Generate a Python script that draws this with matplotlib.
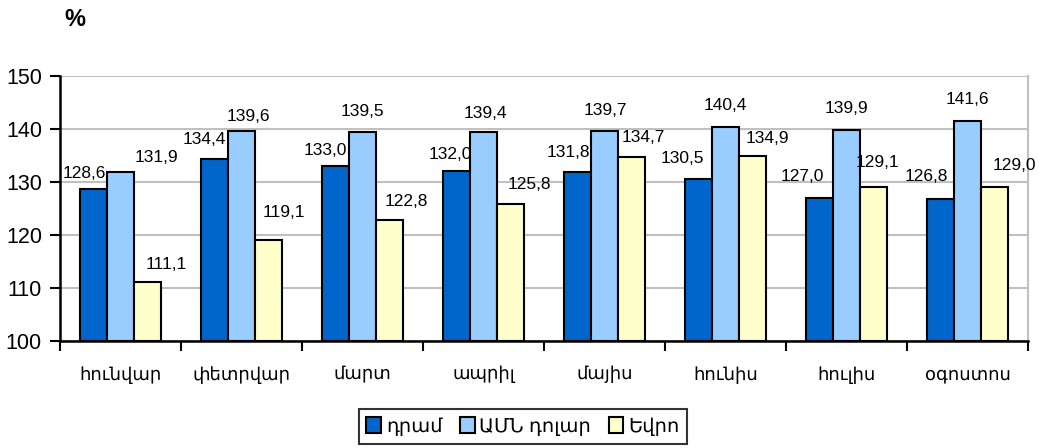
import numpy as np
import matplotlib
matplotlib.use('Agg')
import matplotlib.pyplot as plt
from matplotlib.patches import Patch

plt.rcParams['font.family'] = ['Liberation Sans', 'DejaVu Sans']

months = ['հունվար', 'փետրվար', 'մարտ', 'ապրիլ', 'մայիս', 'հունիս', 'հուլիս', 'օգոստոս']
dram = [128.6, 134.4, 133.0, 132.0, 131.8, 130.5, 127.0, 126.8]
usd = [131.9, 139.6, 139.5, 139.4, 139.7, 140.4, 139.9, 141.6]
euro = [111.1, 119.1, 122.8, 125.8, 134.7, 134.9, 129.1, 129.0]
series_names = ['դրամ', 'ԱՄՆ դոլար', 'Եվրո']
yticks = [100, 110, 120, 130, 140, 150]

# label offsets (pixels) as placed in the original chart
lab_dx = [[-9, -10, -10, -6, -9, -16, -17, -14],
          [36, 7, 0, 2, 1, 0, 0, 0],
          [19, 16, 17, 19, 12, 15, 4, 20]]
lab_dy = [[16, 19, 16, 17, 20, 21, 21, 22],
          [14, 15, 20, 19, 20, 21, 21, 21],
          [18, 27, 19, 20, 20, 18, 24, 22]]

colors = ['#0066CC', '#99CCFF', '#FFFFCC']

fig = plt.figure(figsize=(10.42, 4.48), dpi=100)
ax = fig.add_axes([60 / 1042, 1 - 341 / 448, 968 / 1042, 265 / 448])

x = np.arange(len(months)) + 0.5
w = 0.221
for k, vals in enumerate([dram, usd, euro]):
    pos = x + (k - 1) * w
    ax.bar(pos, np.array(vals) - 100, width=w, bottom=100, color=colors[k],
           edgecolor='black', linewidth=1.5, zorder=3)
    for i, v in enumerate(vals):
        ax.annotate(f'{v:.1f}'.replace('.', ','), (pos[i], v),
                    xytext=(lab_dx[k][i], lab_dy[k][i]), textcoords='offset pixels',
                    ha='center', va='center', fontsize=12.5, zorder=4)

ax.set_xlim(0, len(months))
ax.set_ylim(100, 150)
ax.set_yticks(yticks)
ax.set_yticklabels([str(t) for t in yticks], fontsize=15.5)
ax.set_xticks(np.arange(len(months) + 1))
ax.set_xticklabels([])
ax.set_xticks(x, minor=True)
ax.set_xticklabels(months, minor=True, fontsize=13)
ax.tick_params(axis='x', which='minor', length=0, pad=18)
ax.tick_params(axis='x', which='major', length=7, width=1.5, direction='out')
ax.tick_params(axis='y', length=7, width=1.5, direction='out', pad=6)

ax.grid(axis='y', color='#c0c0c0', linewidth=1.5, zorder=0)
ax.spines['left'].set_linewidth(1.8)
ax.spines['bottom'].set_linewidth(1.8)
ax.spines['top'].set_visible(False)
ax.spines['right'].set_color('#c0c0c0')
ax.spines['right'].set_linewidth(1.5)

fig.text(75 / 1042, 1 - 20 / 448, '%', fontsize=17, fontweight='bold',
         ha='center', va='center')

handles = [Patch(facecolor=c, edgecolor='black', linewidth=1.5) for c in colors]
leg = fig.legend(handles, series_names, loc='center', bbox_to_anchor=(0.502, 0.048),
                 ncol=3, fontsize=14, frameon=True, fancybox=False,
                 handlelength=0.75, handleheight=0.85, handletextpad=0.25,
                 columnspacing=0.9, borderpad=0.4, borderaxespad=0)
leg.get_frame().set_edgecolor('black')
leg.get_frame().set_linewidth(1.5)

fig.savefig('out.png', dpi=100)
